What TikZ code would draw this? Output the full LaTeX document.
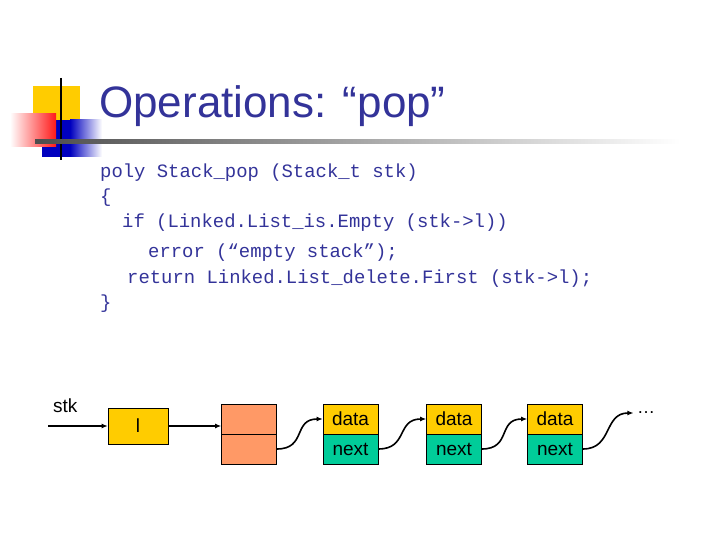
\documentclass[tikz,border=0pt]{standalone}
\usepackage{fontspec}
\setmainfont{Liberation Sans}
\setmonofont{Liberation Mono}
\usetikzlibrary{arrows.meta}
\definecolor{ttl}{HTML}{333399}
\definecolor{ylw}{HTML}{FFCC00}
\definecolor{org}{HTML}{FF9966}
\definecolor{grn}{HTML}{00CC99}
\begin{document}
\begin{tikzpicture}[x=1pt,y=-1pt,
  cell/.style={draw=black,line width=0.6pt,minimum width=55pt,minimum height=30pt,inner sep=0pt,font=\fontsize{19}{20}\selectfont},
  link/.style={-{Latex[length=6pt,width=5pt]},line width=1.6pt},
  code/.style={anchor=base west,inner sep=0pt,font=\ttfamily\fontsize{18.9}{20}\selectfont,text=ttl}]
\useasboundingbox (0,0) rectangle (720,540);
% decoration
\fill[ylw] (33,86) rectangle (80,121);
\shade[left color=blue!75!black,right color=white] (70,120) rectangle (102,157);
\fill[blue!75!black] (42,120) rectangle (70.5,157);
\shade[left color=white,right color=red!90] (10,114) rectangle (56,147);
\draw[line width=2.5pt] (61,78) -- (61,160);
\shade[left color=black!70,right color=white] (35,140) rectangle (680,143.5);
\node[anchor=base west,inner sep=0pt,text=ttl,font=\fontsize{44}{46}\selectfont] (title) at (99,118) {Operations: “pop”};
\node[code] (c1) at (100,178) {poly Stack\_pop (Stack\_t stk)};
\node[code] (c2) at (100,203) {\{};
\node[code] (c3) at (122,228) {if (Linked.List\_is.Empty (stk->l))};
\node[code] (c4) at (148,258) {error (“empty stack”);};
\node[code] (c5) at (127,283) {return Linked.List\_delete.First (stk->l);};
\node[code] (c6) at (100,308) {\}};
% list
\node[anchor=base west,inner sep=0pt,font=\fontsize{19}{20}\selectfont] (stk) at (53,412) {stk};
\node[cell,fill=ylw,minimum width=60pt,minimum height=36pt] (l) at (138,426) {l};
\coordinate (s0) at (48,426);
\node[cell,fill=org,minimum height=30pt] (h1) at (249,419) {};
\node[cell,fill=org,minimum height=30pt] (h2) at (249,449) {};
\foreach \i/\x in {1/350.5,2/454,3/555}{
  \node[cell,fill=ylw] (d\i) at (\x,419) {data};
  \node[cell,fill=grn] (n\i) at (\x,449) {next};
}
\node[font=\fontsize{18}{20}\selectfont] (dots) at (646,413) {…};
\draw[link] (s0) -- (l.west);
\draw[link] (l.east) -- (h1.west |- l.east);
\draw[link] (h2.east) .. controls +(30,0) and +(-30,0) .. (d1.west);
\draw[link] (n1.east) .. controls +(30,0) and +(-30,0) .. (d2.west);
\draw[link] (n2.east) .. controls +(30,0) and +(-30,0) .. (d3.west);
\draw[link] (n3.east) .. controls +(30,0) and +(-30,0) .. (dots.west);
\end{tikzpicture}
\end{document}
